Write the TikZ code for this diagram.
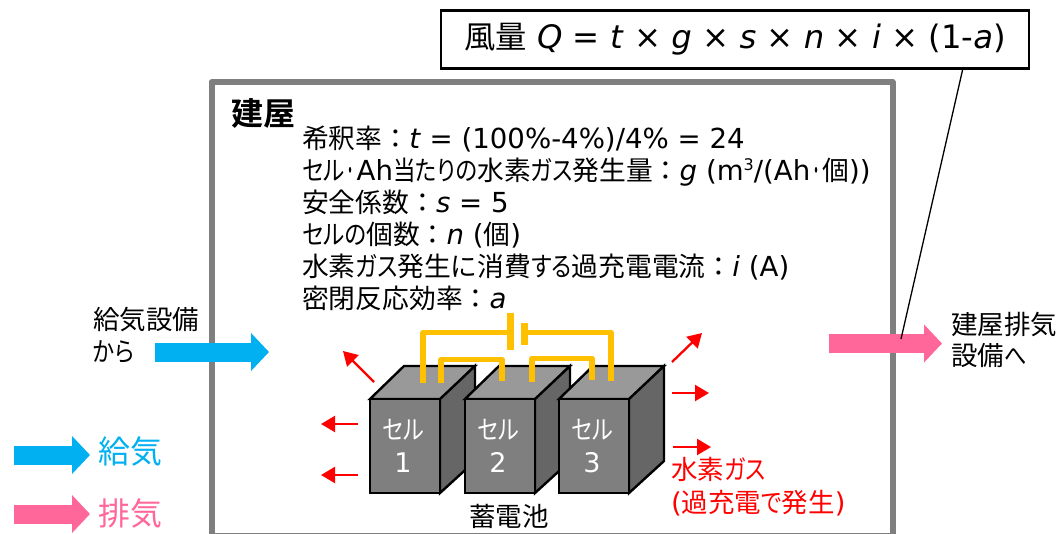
\documentclass[tikz,border=0pt]{standalone}
\usepackage{fontspec}
\usetikzlibrary{arrows.meta}
\setmainfont{DejaVu Sans}
\newfontfamily\cjk[Scale=0.97]{Noto Sans CJK JP}
\newfontfamily\cjkb[RawFeature=+palt]{Noto Sans CJK JP Bold}
\newfontfamily\kana[Scale=0.97,FakeStretch=0.84,RawFeature=+palt]{Noto Sans CJK JP}
\newfontfamily\dotfont[Scale=0.97,FakeStretch=0.45]{Noto Sans CJK JP}
\newcommand{\J}[1]{{\cjk #1}}
\newcommand{\K}[1]{{\kana #1}}
\newcommand{\D}{{\dotfont ・}}
\definecolor{wallgray}{HTML}{7F7F7F}
\definecolor{airblue}{HTML}{00B0F0}
\definecolor{airpink}{HTML}{FF6699}
\definecolor{wireorange}{HTML}{FFC000}
\definecolor{frontface}{HTML}{7F7F7F}
\definecolor{topface}{HTML}{999999}
\definecolor{sideface}{HTML}{666666}
\tikzset{
  x=1pt,y=-1pt,
  txt/.style={anchor=base west,inner sep=0pt,font=\fontsize{27.6}{30}\selectfont},
  lbl/.style={anchor=base west,inner sep=0pt,font=\fontsize{27.3}{30}\selectfont},
  legend/.style={anchor=base west,inner sep=0pt,font=\fontsize{32.8}{36}\selectfont},
  supply/.style={-{Triangle[length=18pt,width=37pt]},line width=19pt,airblue},
  exhaust/.style={-{Triangle[length=18pt,width=37pt]},line width=19pt,airpink},
  gas/.style={-{Triangle[length=14pt,width=16pt]},line width=2.3pt,red},
  wire/.style={line width=5.5pt,wireorange,line join=round},
  face/.style={draw=black,line width=2.4pt,line join=miter},
  celltext/.style={inner sep=0pt,white,align=center,font=\fontsize{27}{33}\selectfont},
}
\newcommand{\cell}[3]{% front-left x, name, number
  \fill[face,fill=topface] (#1,399) -- ++(34,-33) -- ++(71,0) -- ++(-34,33) -- cycle;
  \fill[face,fill=sideface] (#1+70,399) -- ++(35,-33) -- ++(0,95) -- ++(-35,32) -- cycle;
  \fill[face,fill=frontface] (#1,399) rectangle (#1+70,493);
  \node[celltext] (#2) at (#1+33,446) {\K{セル}\\#3};
}
\begin{document}
\begin{tikzpicture}
\useasboundingbox (0,0) rectangle (1059,533);
\clip (0,0) rectangle (1059,533);
% building
\draw[wallgray,line width=6pt,line join=round] (211.5,535.5) -- (211.5,82) -- (892.5,82) -- (892.5,535.5) -- cycle;
\node[anchor=base west,inner sep=0pt,font=\fontsize{32}{34}\selectfont] (building) at (231,125) {\cjkb 建屋};
% parameter text
\node[txt] (l1) at (302,148) {\J{希釈率：}\textit{t} = (100\%-4\%)/4\% = 24};
\node[txt] (l2) at (302,180) {\K{セル}\D Ah\K{当たりの}\J{水素}\K{ガス}\J{発生量：}\textit{g} (m\raisebox{0.33em}{\fontsize{16}{16}\selectfont 3}/(Ah\D\J{個}))};
\node[txt] (l3) at (302,212) {\J{安全係数：}\textit{s} = 5};
\node[txt] (l4) at (302,244) {\K{セルの}\J{個数：}\textit{n} (\J{個})};
\node[txt] (l5) at (302,276) {\J{水素}\K{ガス}\J{発生に消費}\K{する}\J{過充電電流：}\textit{i} (A)};
\node[txt] (l6) at (302,308) {\J{密閉反応効率：}\textit{a}};
% formula
\node[draw=black,line width=2.4pt,minimum width=588pt,minimum height=58pt,inner sep=0pt,font=\fontsize{32.3}{36}\selectfont] (formula) at (735,39.5)
  {\J{風量} \textit{Q} = \textit{t} × \textit{g} × \textit{s} × \textit{n} × \textit{i} × (1-\textit{a})\hspace{8pt}};
% cells
\cell{370}{cellA}{1}
\cell{465}{cellB}{2}
\cell{559}{cellC}{3}
% wiring
\node[fill=wireorange,minimum width=7pt,minimum height=37pt,inner sep=0pt] (plateA) at (510.5,331.5) {};
\node[fill=wireorange,minimum width=7pt,minimum height=22pt,inner sep=0pt] (plateB) at (524.5,334) {};
\coordinate (t1) at (423,383);
\coordinate (t2) at (441,383);
\coordinate (t3) at (502,381);
\coordinate (t4) at (532,382);
\coordinate (t5) at (592,380);
\coordinate (t6) at (611,381);
\draw[wire] (t1) |- (plateA.west |- 0,332.5);
\draw[wire] (t6) |- (plateB.east |- 0,332.5);
\draw[wire] (t2) |- (t3 |- 0,359.5) -- (t3);
\draw[wire] (t4) |- (t5 |- 0,358.5) -- (t5);
% gas arrows
\coordinate (g1a) at (374,382); \coordinate (g1b) at (343,351);
\coordinate (g2a) at (358,424); \coordinate (g2b) at (321,424);
\coordinate (g3a) at (358,475); \coordinate (g3b) at (321,475);
\coordinate (g4a) at (672,362); \coordinate (g4b) at (702,333);
\coordinate (g5a) at (672,393); \coordinate (g5b) at (709,393);
\coordinate (g6a) at (673,447); \coordinate (g6b) at (711,447);
\foreach \n in {1,...,6} \draw[gas] (g\n a) -- (g\n b);
% labels
\node[lbl] (store) at (469,526) {\J{蓄電池}};
\node[lbl,red] (hy1) at (671,479) {\J{水素}\K{ガス}};
\node[lbl,red] (hy2) at (671,512) {(\J{過充電}\K{で}\J{発生})};
\node[lbl] (in1) at (93,329) {\J{給気設備}};
\node[lbl] (in2) at (93,361) {\K{から}};
\node[lbl] (out1) at (951,334) {\J{建屋排気}};
\node[lbl] (out2) at (951,365) {\J{設備}\K{へ}};
% block arrows
\coordinate (sa) at (155,352); \coordinate (sb) at (269,352);
\coordinate (ea) at (829,343.5); \coordinate (eb) at (942,343.5);
\coordinate (la) at (14,455); \coordinate (lb) at (90,455);
\coordinate (ma) at (14,514); \coordinate (mb) at (90,514);
\draw[supply] (sa) -- (sb);
\draw[exhaust] (ea) -- (eb);
\draw[supply] (la) -- (lb);
\draw[exhaust] (ma) -- (mb);
\node[legend,airblue] (lg1) at (98,463) {\J{給気}};
\node[legend,airpink] (lg2) at (98,525) {\J{排気}};
% leader
\coordinate (foot) at (963,68);
\coordinate (target) at (901,339);
\draw[black,line width=1.3pt] (foot) -- (target);
\end{tikzpicture}
\end{document}
